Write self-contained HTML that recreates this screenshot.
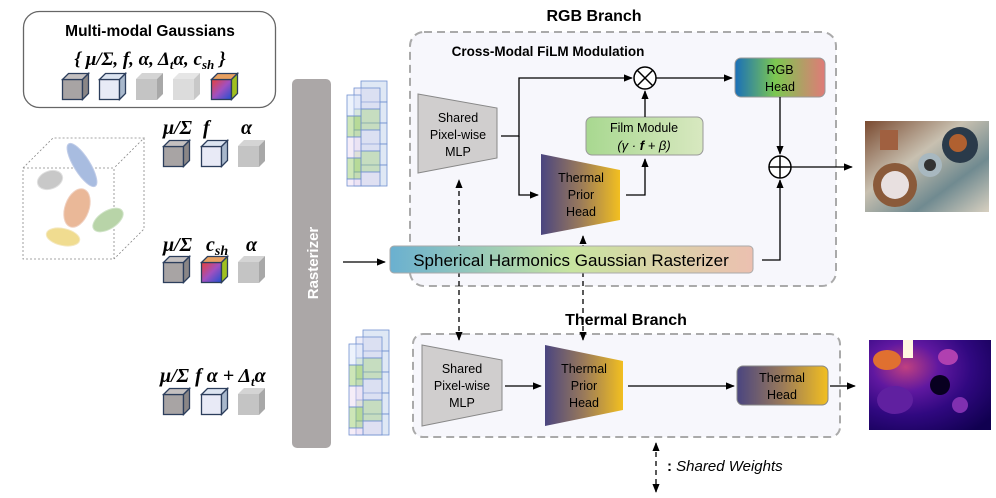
<!DOCTYPE html>
<html><head><meta charset="utf-8"><style>
html,body{margin:0;padding:0;background:#fff;width:996px;height:498px;overflow:hidden}
svg{display:block}
text{font-family:"Liberation Sans",sans-serif}
.m{font-family:"Liberation Serif",serif;font-style:italic;font-weight:bold}
</style></head><body>
<svg width="996" height="498" viewBox="0 0 996 498" xmlns="http://www.w3.org/2000/svg">
<defs>
<marker id="ar" viewBox="0 0 10 10" refX="9" refY="5" markerWidth="7" markerHeight="7" orient="auto-start-reverse"><path d="M0,1 L10,5 L0,9 z" fill="#000"/></marker>
<linearGradient id="thg" x1="0" x2="1" y1="0" y2="0"><stop offset="0" stop-color="#4a4580"/><stop offset="0.5" stop-color="#9a7a5a"/><stop offset="1" stop-color="#f2bf20"/></linearGradient>
<linearGradient id="rgbg" x1="0" x2="1"><stop offset="0" stop-color="#1a6fb8"/><stop offset="0.45" stop-color="#7cc850"/><stop offset="1" stop-color="#e07a78"/></linearGradient>
<linearGradient id="film" x1="0" x2="1"><stop offset="0" stop-color="#a8d890"/><stop offset="1" stop-color="#d8e8c0"/></linearGradient>
<linearGradient id="shg" x1="0" x2="1"><stop offset="0" stop-color="#6ab0d0"/><stop offset="0.5" stop-color="#c8e4a0"/><stop offset="1" stop-color="#ecc0b0"/></linearGradient>
<linearGradient id="csh" x1="0" y1="0" x2="1" y2="1"><stop offset="0" stop-color="#e8403a"/><stop offset="0.5" stop-color="#a050c0"/><stop offset="1" stop-color="#2050d0"/></linearGradient>
<linearGradient id="food" x1="0" y1="0" x2="1" y2="1"><stop offset="0" stop-color="#7a4a30"/><stop offset="0.4" stop-color="#c8c0b0"/><stop offset="0.7" stop-color="#708a90"/><stop offset="1" stop-color="#d8d0c0"/></linearGradient>
<radialGradient id="therm" cx="0.3" cy="0.3" r="0.9"><stop offset="0" stop-color="#c04080"/><stop offset="0.3" stop-color="#6018a0"/><stop offset="0.6" stop-color="#300880"/><stop offset="1" stop-color="#100050"/></radialGradient>
<g id="cD"><rect x="0.5" y="6.5" width="20" height="20" fill="#a8a4a4" stroke="#2c3e5c" stroke-width="1.3"/><path d="M0.5,6.5 L6.5,0.5 L26.5,0.5 L20.5,6.5Z" fill="#c4c0c0" stroke="#2c3e5c" stroke-width="1.3"/><path d="M20.5,6.5 L26.5,0.5 L26.5,20.5 L20.5,26.5Z" fill="#8a8686" stroke="#2c3e5c" stroke-width="1.3"/></g>
<g id="cL"><rect x="0.5" y="6.5" width="20" height="20" fill="#e8eaf6" stroke="#2c3e5c" stroke-width="1.3"/><path d="M0.5,6.5 L6.5,0.5 L26.5,0.5 L20.5,6.5Z" fill="#dce4f0" stroke="#2c3e5c" stroke-width="1.3"/><path d="M20.5,6.5 L26.5,0.5 L26.5,20.5 L20.5,26.5Z" fill="#a8b8cc" stroke="#2c3e5c" stroke-width="1.3"/></g>
<g id="cG"><rect x="0" y="6" width="21" height="21" fill="#c4c4c4"/><path d="M0,6 L6,0 L27,0 L21,6Z" fill="#d4d4d4"/><path d="M21,6 L27,0 L27,21 L21,27Z" fill="#a8a8a8"/></g>
<g id="cW"><rect x="0" y="6" width="21" height="21" fill="#dcdcdc"/><path d="M0,6 L6,0 L27,0 L21,6Z" fill="#e6e6e6"/><path d="M21,6 L27,0 L27,21 L21,27Z" fill="#c8c8c8"/></g>
<g id="cC"><rect x="0.5" y="6.5" width="20" height="20" fill="url(#csh)" stroke="#2c3e5c" stroke-width="1.3"/><path d="M0.5,6.5 L6.5,0.5 L26.5,0.5 L20.5,6.5Z" fill="#e8a060" stroke="#2c3e5c" stroke-width="1.3"/><path d="M20.5,6.5 L26.5,0.5 L26.5,20.5 L20.5,26.5Z" fill="#a0c020" stroke="#2c3e5c" stroke-width="1.3"/></g>
<g id="grid">
<g fill-opacity="0.45" stroke="#7090d0" stroke-width="0.8">
<rect x="14" y="0" width="26" height="21" fill="#b8cce8"/><rect x="14" y="21" width="26" height="21" fill="#b8cce8"/><rect x="14" y="42" width="26" height="21" fill="#b8cce8"/><rect x="14" y="63" width="26" height="21" fill="#b8cce8"/><rect x="14" y="84" width="26" height="21" fill="#b8cce8"/>
<rect x="7" y="7" width="26" height="21" fill="#d8d8f0"/><rect x="7" y="28" width="26" height="21" fill="#a8d080"/><rect x="7" y="49" width="26" height="21" fill="#d8d8f0"/><rect x="7" y="70" width="26" height="21" fill="#a8d080"/><rect x="7" y="91" width="26" height="14" fill="#e0d8f0"/>
<rect x="0" y="14" width="14" height="21" fill="#d8e4f8"/><rect x="0" y="35" width="14" height="21" fill="#90c860"/><rect x="0" y="56" width="14" height="21" fill="#e8d8f0"/><rect x="0" y="77" width="14" height="21" fill="#90c860"/><rect x="0" y="98" width="14" height="7" fill="#e8d8f0"/>
</g></g>
</defs>

<!-- Multi-modal box -->
<rect x="23.5" y="11.5" width="252" height="96" rx="16" fill="#fff" stroke="#666" stroke-width="1.3"/>
<text x="150" y="36" text-anchor="middle" font-size="15.5" font-weight="bold">Multi-modal Gaussians</text>
<text x="150" y="65" text-anchor="middle" font-size="19" class="m">{ μ/Σ, f, α, Δ<tspan font-size="13" dy="4">t</tspan><tspan dy="-4">α, c</tspan><tspan font-size="13" dy="4">sh</tspan><tspan dy="-4"> }</tspan></text>
<use href="#cD" x="62" y="73"/><use href="#cL" x="99" y="73"/><use href="#cG" x="136" y="73"/><use href="#cW" x="173" y="73"/><use href="#cC" x="211" y="73"/>

<!-- 3D box -->
<g fill="none" stroke="#888" stroke-width="0.8" stroke-dasharray="2,2">
<rect x="23" y="168" width="91" height="91"/><path d="M23,168 L53,138 L144,138 L114,168 M144,138 L144,229 L114,259"/>
</g>
<ellipse cx="82" cy="165" rx="8" ry="25" transform="rotate(-32 82 165)" fill="#a8bce0" stroke="#c0cce8"/>
<ellipse cx="50" cy="180" rx="13" ry="9" transform="rotate(-20 50 180)" fill="#c8c8c8" stroke="#e0e0e0"/>
<ellipse cx="77" cy="208" rx="12" ry="20" transform="rotate(20 77 208)" fill="#eab898" stroke="#f0d0c0"/>
<ellipse cx="108" cy="220" rx="17" ry="9" transform="rotate(-32 108 220)" fill="#b8d4a8" stroke="#d0e4c8"/>
<ellipse cx="63" cy="237" rx="17" ry="8.5" transform="rotate(12 63 237)" fill="#f0dc90" stroke="#f4e8c0"/>

<text x="163" y="134" font-size="20" class="m">μ/Σ</text><text x="203" y="134" font-size="20" class="m">f</text><text x="241" y="134" font-size="20" class="m">α</text>
<use href="#cD" x="163" y="140"/><use href="#cL" x="201" y="140"/><use href="#cG" x="238" y="140"/>

<text x="163" y="251" font-size="20" class="m">μ/Σ</text><text x="206" y="251" font-size="20" class="m">c<tspan font-size="14" dy="4">sh</tspan></text><text x="246" y="251" font-size="20" class="m">α</text>
<use href="#cD" x="163" y="256"/><use href="#cC" x="201" y="256"/><use href="#cG" x="238" y="256"/>

<text x="160" y="382" font-size="20" class="m">μ/Σ <tspan dx="1">f</tspan> α + Δ<tspan font-size="13" dy="4">t</tspan><tspan dy="-4">α</tspan></text>
<use href="#cD" x="163" y="388"/><use href="#cL" x="201" y="388"/><use href="#cG" x="238" y="388"/>

<!-- Rasterizer -->
<rect x="292" y="79" width="39" height="369" rx="5" fill="#aba7a7"/>
<text transform="translate(318,263) rotate(-90)" text-anchor="middle" font-size="15" font-weight="bold" fill="#fff">Rasterizer</text>

<use href="#grid" x="347" y="81"/>
<use href="#grid" x="349" y="330"/>

<line x1="343" y1="262" x2="385" y2="262" stroke="#000" stroke-width="1.3" marker-end="url(#ar)"/>

<!-- RGB branch -->
<text x="594" y="21" text-anchor="middle" font-size="16" font-weight="bold">RGB Branch</text>
<rect x="410" y="32" width="426" height="254" rx="14" fill="#f7f7fc" stroke="#aaa" stroke-width="2" stroke-dasharray="8,5"/>
<text x="548" y="56" text-anchor="middle" font-size="13.5" font-weight="bold">Cross-Modal FiLM Modulation</text>

<!-- Thermal branch box -->
<text x="626" y="325" text-anchor="middle" font-size="16" font-weight="bold">Thermal Branch</text>
<rect x="413" y="334" width="427" height="103" rx="10" fill="#f7f7fc" stroke="#aaa" stroke-width="2" stroke-dasharray="8,5"/>

<!-- dashed shared (behind) -->
<g stroke="#000" stroke-width="1.3" fill="none" stroke-dasharray="5,4">
<path d="M459,340 L459,180" marker-start="url(#ar)" marker-end="url(#ar)"/>
<path d="M583,340 L583,236" marker-start="url(#ar)" marker-end="url(#ar)"/>
<path d="M656,443 L656,492" marker-start="url(#ar)" marker-end="url(#ar)"/>
</g>

<path d="M418,94 L497,108 L497,158 L418,173Z" fill="#d0cece" stroke="#888"/>
<text font-size="12.5" text-anchor="middle"><tspan x="458" y="122">Shared</tspan><tspan x="458" y="139">Pixel-wise</tspan><tspan x="458" y="156">MLP</tspan></text>

<path d="M541,154 L620,170 L620,220 L541,235Z" fill="url(#thg)"/>
<text font-size="12.5" text-anchor="middle"><tspan x="581" y="182">Thermal</tspan><tspan x="581" y="199">Prior</tspan><tspan x="581" y="216">Head</tspan></text>

<rect x="586" y="117" width="117" height="38" rx="6" fill="url(#film)" stroke="#999"/>
<text x="644" y="132" text-anchor="middle" font-size="12.5">Film Module</text>
<text x="644" y="150" text-anchor="middle" font-size="13" font-family="Liberation Serif" font-style="italic">(γ · <tspan font-weight="bold">f</tspan> + β)</text>

<circle cx="645" cy="78" r="11" fill="#fff" stroke="#000" stroke-width="1.5"/>
<path d="M637,70 L653,86 M653,70 L637,86" stroke="#000" stroke-width="1.5"/>

<rect x="735" y="58" width="90" height="39" rx="6" fill="url(#rgbg)" stroke="#999"/>
<text font-size="12.5" text-anchor="middle"><tspan x="780" y="74">RGB</tspan><tspan x="780" y="91">Head</tspan></text>

<circle cx="780" cy="167" r="11" fill="#fff" stroke="#000" stroke-width="1.5"/>
<path d="M769,167 L791,167 M780,156 L780,178" stroke="#000" stroke-width="1.5"/>

<rect x="390" y="246" width="363" height="27" rx="4" fill="url(#shg)" stroke="#aaa"/>
<text x="571" y="266" text-anchor="middle" font-size="17">Spherical Harmonics Gaussian Rasterizer</text>

<g stroke="#000" stroke-width="1.3" fill="none">
<path d="M501,136 L519,136 L519,78 L632,78" marker-end="url(#ar)"/>
<path d="M519,136 L519,195 L538,195" marker-end="url(#ar)"/>
<path d="M626,195 L645,195 L645,159" marker-end="url(#ar)"/>
<path d="M645,117 L645,91" marker-end="url(#ar)"/>
<path d="M656,78 L732,78" marker-end="url(#ar)"/>
<path d="M780,97 L780,154" marker-end="url(#ar)"/>
<path d="M762,260 L780,260 L780,180" marker-end="url(#ar)"/>
<path d="M791,167 L852,167" marker-end="url(#ar)"/>
</g>

<rect x="865" y="121" width="124" height="91" fill="url(#food)"/>
<circle cx="895" cy="185" r="22" fill="#8a5a3a"/><circle cx="895" cy="185" r="14" fill="#e8e0e0"/>
<circle cx="960" cy="145" r="18" fill="#2a3a4a"/><circle cx="958" cy="143" r="9" fill="#b06030"/>
<circle cx="930" cy="165" r="12" fill="#a8b8c0"/><circle cx="930" cy="165" r="6" fill="#333"/>
<rect x="880" y="130" width="18" height="20" fill="#a06040"/>

<path d="M422,345 L502,360 L502,410 L422,426Z" fill="#d0cece" stroke="#888"/>
<text font-size="12.5" text-anchor="middle"><tspan x="462" y="373">Shared</tspan><tspan x="462" y="390">Pixel-wise</tspan><tspan x="462" y="407">MLP</tspan></text>

<path d="M545,345 L623,361 L623,410 L545,426Z" fill="url(#thg)"/>
<text font-size="12.5" text-anchor="middle"><tspan x="584" y="373">Thermal</tspan><tspan x="584" y="390">Prior</tspan><tspan x="584" y="407">Head</tspan></text>

<rect x="737" y="366" width="91" height="39" rx="6" fill="url(#thg)" stroke="#888"/>
<text font-size="12.5" text-anchor="middle"><tspan x="782" y="382">Thermal</tspan><tspan x="782" y="399">Head</tspan></text>

<g stroke="#000" stroke-width="1.3" fill="none">
<path d="M505,386 L541,386" marker-end="url(#ar)"/>
<path d="M628,386 L734,386" marker-end="url(#ar)"/>
<path d="M830,386 L855,386" marker-end="url(#ar)"/>
</g>

<rect x="869" y="340" width="122" height="90" fill="url(#therm)"/>
<rect x="903" y="340" width="10" height="18" fill="#fff8e0"/>
<ellipse cx="887" cy="360" rx="14" ry="10" fill="#e07030"/>
<ellipse cx="948" cy="357" rx="10" ry="8" fill="#b040b0"/>
<circle cx="940" cy="385" r="10" fill="#080020"/>
<ellipse cx="895" cy="400" rx="18" ry="14" fill="#6020a0"/>
<circle cx="960" cy="405" r="8" fill="#8030b0"/>

<text x="667" y="471" font-size="15"><tspan font-weight="bold">:</tspan> <tspan font-style="italic">Shared Weights</tspan></text>
</svg>
</body></html>
